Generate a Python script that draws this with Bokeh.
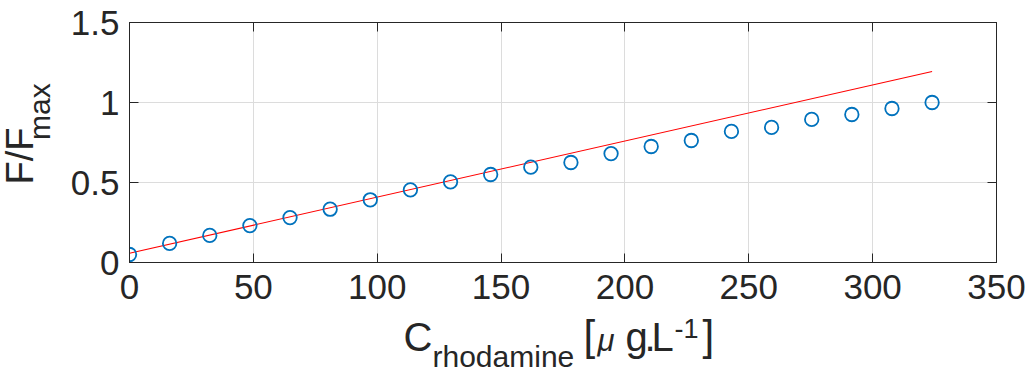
import math
from bokeh.plotting import figure
from bokeh.layouts import column, row
from bokeh.models import Range1d, FixedTicker, LinearAxis
from bokeh.core.properties import value
from bokeh.embed import file_html
from bokeh.resources import INLINE

# ---- data ----
concentration = [0, 16.2, 32.4, 48.6, 64.8, 81.0, 97.2, 113.4, 129.6, 145.8,
                 162.0, 178.2, 194.4, 210.6, 226.8, 243.0, 259.2, 275.4,
                 291.6, 307.8, 324.0]
f_ratio = [0.05, 0.119, 0.169, 0.231, 0.281, 0.333, 0.392, 0.454, 0.504, 0.55,
           0.596, 0.625, 0.681, 0.725, 0.7625, 0.819, 0.844, 0.894, 0.925,
           0.9625, 1.0]
fit_slope = 0.003506
fit_intercept = 0.058
x_ticks = [0, 50, 100, 150, 200, 250, 300, 350]
y_ticks = [0, 0.5, 1, 1.5]
y_tick_labels = ["0", "0.5", "1", "1.5"]

fit_x = [concentration[0], concentration[-1]]
fit_y = [fit_intercept + fit_slope * v for v in fit_x]

FONT = "Liberation Sans"
DARK = "#262626"

W, H = 1030, 382
LEFT_W = 60          # width of the y-title strip
MAIN_H = 314         # height of the main plot row
FRAME_L, FRAME_T, FRAME_R, FRAME_B = 129, 22, 996, 262
SHIFT = 0.42         # empirical baseline correction (em)

# ---- main plot ----
p = figure(width=W - LEFT_W, height=MAIN_H, output_backend="svg",
           toolbar_location=None,
           x_range=Range1d(0, 350), y_range=Range1d(0, 1.5),
           min_border_left=FRAME_L - LEFT_W, min_border_right=W - FRAME_R,
           min_border_top=FRAME_T, min_border_bottom=MAIN_H - FRAME_B)

p.line(fit_x, fit_y, line_color="#FF0000", line_width=1.1)
p.scatter(concentration, f_ratio, marker="circle", size=13.5,
          fill_color=None, line_color="#0072BD", line_width=1.8)

p.outline_line_color = DARK
p.outline_line_width = 1

for ax in [p.xaxis[0], p.yaxis[0]]:
    ax.axis_line_color = DARK
    ax.major_tick_line_color = DARK
    ax.major_tick_in = 9
    ax.major_tick_out = 0
    ax.minor_tick_line_color = None
    ax.major_label_text_font = FONT
    ax.major_label_text_font_size = "35px"
    ax.major_label_text_color = DARK

p.xaxis[0].ticker = FixedTicker(ticks=x_ticks)
p.yaxis[0].ticker = FixedTicker(ticks=y_ticks)
p.yaxis[0].major_label_overrides = {t: l for t, l in zip(y_ticks, y_tick_labels)}
p.xaxis[0].major_label_standoff = 12
p.yaxis[0].major_label_standoff = 10

for t, loc in [(x_ticks, "above"), (y_ticks, "right")]:
    ax = LinearAxis(ticker=FixedTicker(ticks=t), major_tick_in=9, major_tick_out=0,
                    minor_tick_line_color=None, axis_line_color=DARK,
                    major_tick_line_color=DARK, major_label_text_font_size="0px",
                    major_label_standoff=0)
    p.add_layout(ax, loc)

p.xgrid.ticker = FixedTicker(ticks=x_ticks)
p.ygrid.ticker = FixedTicker(ticks=y_ticks)
p.grid.grid_line_color = "#dcdcdc"
p.grid.grid_line_width = 1


def strip(w, h, top):
    """A bare figure whose data coordinates equal page pixels."""
    f = figure(width=w, height=h, output_backend="svg", toolbar_location=None,
               x_range=Range1d(0, w), y_range=Range1d(top + h, top),
               x_axis_type=None, y_axis_type=None, min_border=0)
    f.outline_line_color = None
    f.grid.visible = False
    return f


def put(f, text, px, py, size, rotated=False, style="normal"):
    # (px, py): wanted start of the baseline on the page
    d = SHIFT * size
    if rotated:
        x, y, angle = px - d, py + d, math.pi / 2
    else:
        x, y, angle = px, py - d, 0.0
    f.text(x=[x], y=[y], text=[text], text_font=value(FONT),
           text_font_size=f"{size}px", text_color=DARK, text_align="left",
           text_baseline="alphabetic", angle=angle, text_font_style=style)


# ---- y title strip ----
ys = strip(LEFT_W, MAIN_H, 0)
put(ys, "F/F", 35, 196, 38, rotated=True)
put(ys, "max", 52, 141, 30, rotated=True)

# ---- x title strip ----
xs = strip(W, H - MAIN_H, MAIN_H)
put(xs, "C", 403, 353, 40)
put(xs, "rhodamine", 432, 369, 30)
put(xs, "[", 583, 353, 42)
put(xs, "μ", 597, 353, 31, style="italic")
put(xs, "g", 625, 353, 40)
put(xs, ".", 644, 353, 40)
put(xs, "L", 651, 353, 40)
put(xs, "-1", 674, 339, 27)
put(xs, "]", 702, 353, 42)

layout = column(row(ys, p, spacing=0), xs, spacing=0)
open("out.html", "w").write(file_html(layout, INLINE))
